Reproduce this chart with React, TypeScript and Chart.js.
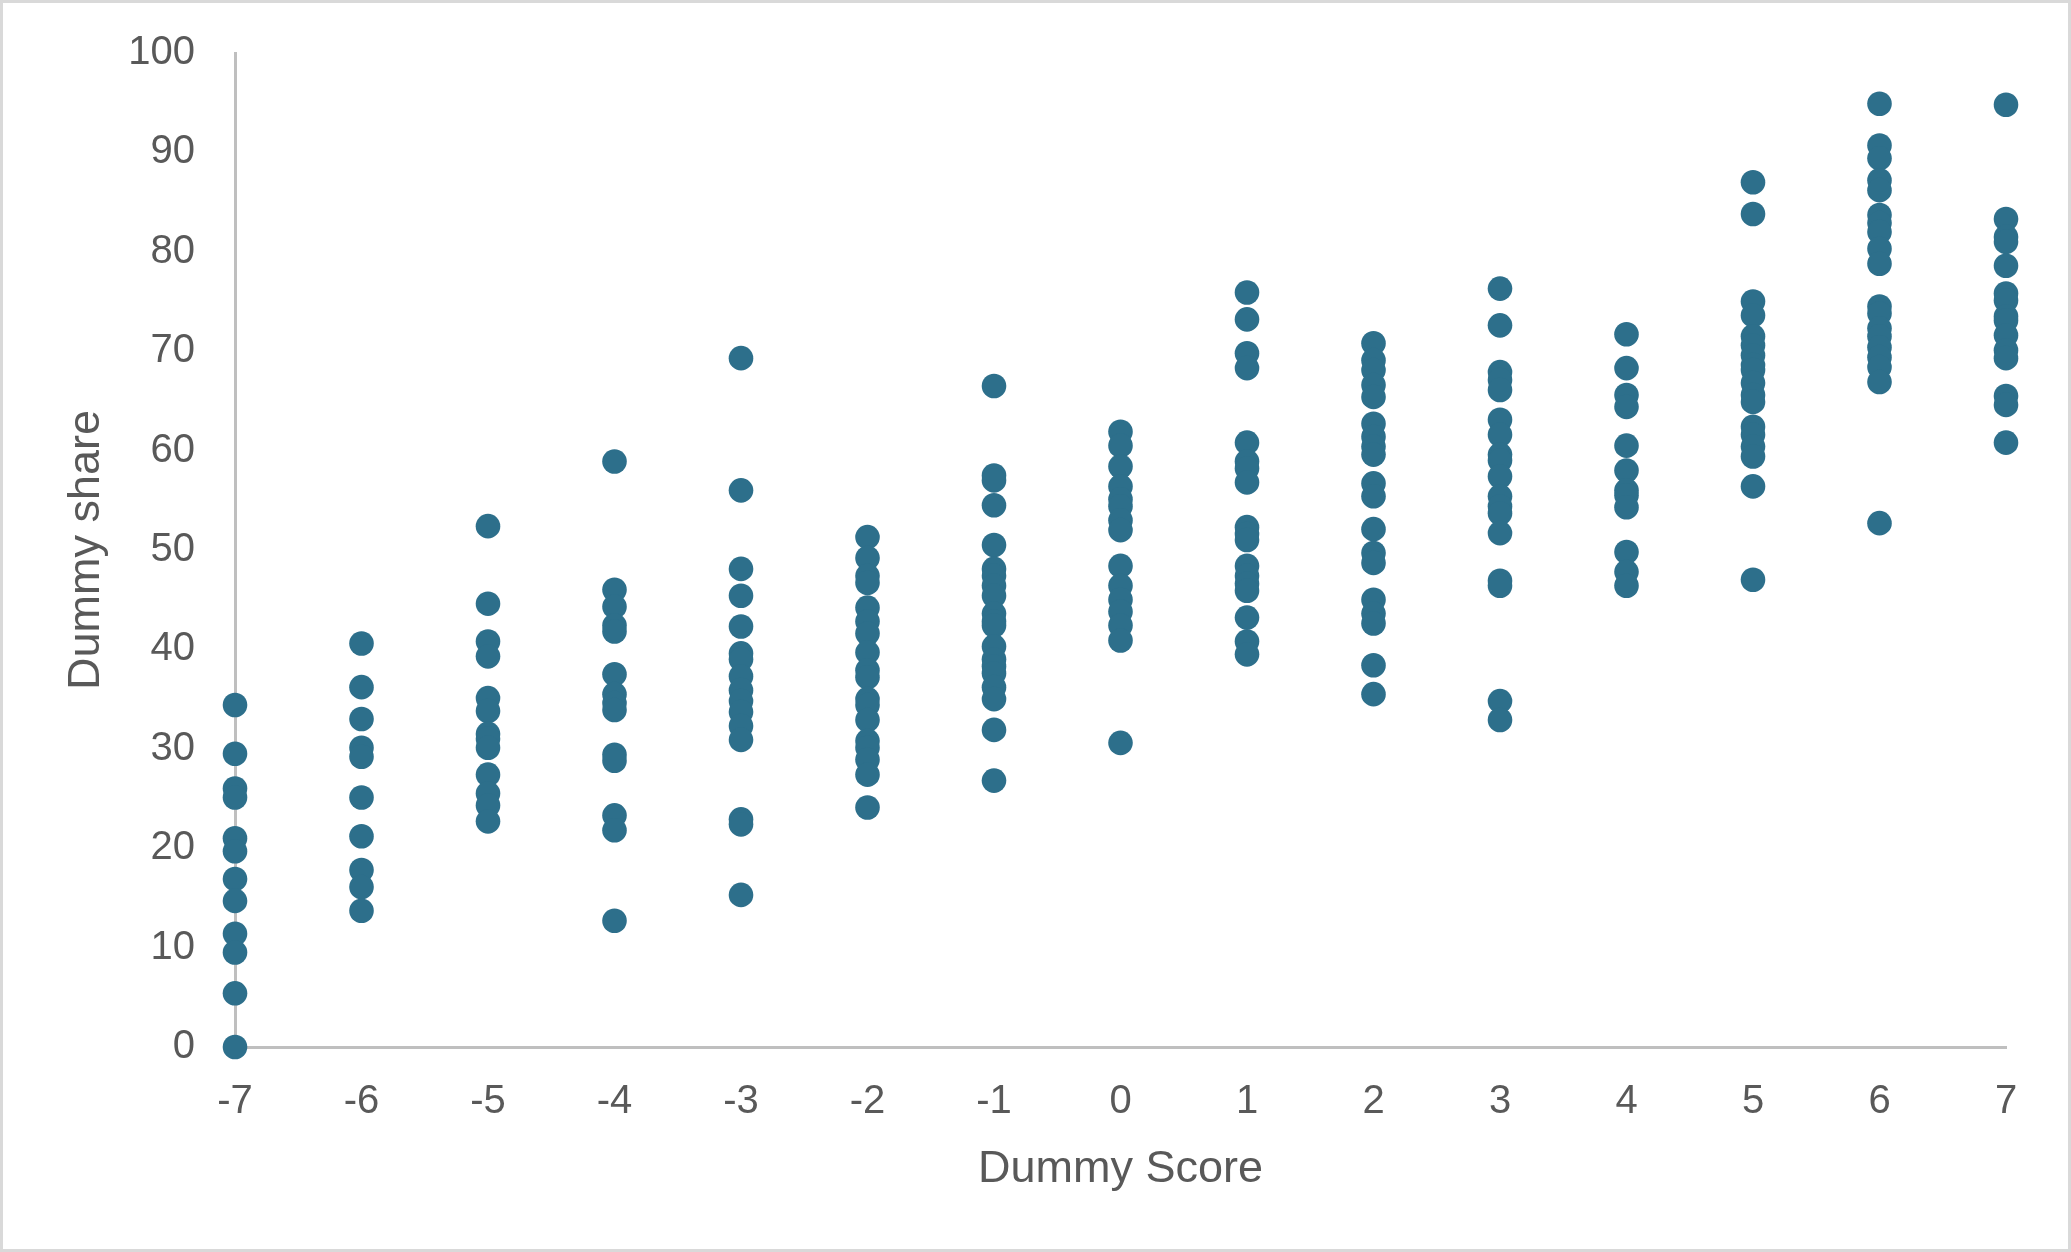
import React, { useEffect, useRef } from "react";
import { Chart, registerables } from "chart.js";

Chart.register(...registerables);

// Score categories (x values)
const scores = [-7, -6, -5, -4, -3, -2, -1, 0, 1, 2, 3, 4, 5, 6, 7];

// Share values (y) for each score
const sharesMinus7 = [34.4, 29.5, 26.0, 25.1, 21.0, 19.7, 16.9, 14.7, 11.4, 9.5, 5.4, 0];
const sharesMinus6 = [40.6, 36.2, 33.0, 30.1, 29.2, 25.1, 21.2, 17.8, 16.1, 13.7];
const sharesMinus5 = [52.4, 44.6, 40.8, 39.3, 35.1, 33.8, 31.5, 31.0, 30.1, 27.4, 25.5, 24.3, 22.7];
const sharesMinus4 = [58.9, 46.0, 44.3, 42.4, 41.8, 37.5, 35.5, 34.6, 33.9, 29.4, 28.8, 23.3, 21.8, 12.7];
const sharesMinus3 = [69.3, 56.0, 48.1, 45.4, 42.3, 39.6, 39.0, 37.3, 35.9, 34.8, 33.7, 32.3, 30.9, 22.9, 22.4, 15.3];
const sharesMinus2 = [51.3, 49.2, 47.4, 46.7, 44.2, 42.8, 41.6, 39.7, 37.9, 37.2, 35.0, 34.4, 32.9, 30.8, 30.1, 28.9, 27.4, 24.1];
const sharesMinus1 = [66.5, 57.5, 57.0, 54.5, 50.5, 48.1, 47.4, 46.4, 45.4, 43.6, 42.8, 42.4, 40.3, 39.0, 38.3, 37.6, 36.2, 35.0, 31.9, 26.8];
const shares0 = [61.9, 60.5, 58.4, 56.4, 55.1, 54.4, 53.0, 52.0, 48.4, 46.4, 45.0, 43.8, 42.4, 40.9, 30.6];
const shares1 = [75.9, 73.2, 69.8, 68.3, 60.8, 58.9, 58.2, 56.8, 52.3, 51.6, 51.0, 48.4, 47.4, 46.6, 45.9, 43.2, 40.8, 39.5];
const shares2 = [70.8, 69.1, 68.1, 66.6, 65.4, 62.7, 61.4, 60.4, 59.6, 56.7, 55.4, 52.1, 49.7, 48.7, 45.0, 43.6, 42.6, 38.4, 35.5];
const shares3 = [76.3, 72.6, 67.9, 67.1, 66.1, 63.1, 61.6, 59.6, 59.0, 57.4, 55.4, 54.4, 53.7, 51.7, 46.9, 46.4, 34.8, 32.9];
const shares4 = [71.7, 68.3, 65.6, 64.4, 60.5, 58.0, 56.0, 55.5, 54.3, 49.8, 47.8, 46.4];
const shares5 = [87.0, 83.8, 75.0, 73.6, 71.5, 70.6, 69.6, 68.6, 68.1, 66.8, 65.6, 64.9, 62.4, 61.6, 60.4, 59.4, 56.4, 47.0];
const shares6 = [94.9, 90.7, 89.4, 87.2, 86.2, 83.7, 82.9, 82.0, 80.3, 78.8, 74.5, 73.8, 72.3, 71.5, 70.4, 69.4, 68.4, 66.9, 52.7];
const shares7 = [94.8, 83.3, 81.5, 81.0, 78.6, 75.8, 75.1, 73.5, 73.1, 71.6, 70.1, 69.3, 65.5, 64.6, 60.8];

const sharesByScore = [
  sharesMinus7, sharesMinus6, sharesMinus5, sharesMinus4, sharesMinus3,
  sharesMinus2, sharesMinus1, shares0, shares1, shares2, shares3, shares4,
  shares5, shares6, shares7,
];

const xTitle = "Dummy Score";
const yTitle = "Dummy share";

const W = 2071;
const H = 1252;
const FONT = "'Liberation Sans', Arial, 'DejaVu Sans', sans-serif";
const TEXT = "#595959";
const AXIS = "#bfbfbf";
const DOT = "rgb(45,111,139)";

const frame = {
  id: "frame",
  beforeDraw(chart: any) {
    const ctx = chart.ctx;
    ctx.save();
    ctx.fillStyle = "#ffffff";
    ctx.fillRect(0, 0, chart.width, chart.height);
    ctx.strokeStyle = "#d9d9d9";
    ctx.lineWidth = 3;
    ctx.strokeRect(1.5, 1.5, chart.width - 3, chart.height - 3);
    ctx.restore();
  },
};

export default function App() {
  const ref = useRef<HTMLCanvasElement | null>(null);

  useEffect(() => {
    document.body.style.margin = "0";
    document.body.style.overflow = "hidden";
    const canvas = ref.current;
    if (!canvas) return;
    const points: { x: number; y: number }[] = [];
    scores.forEach((s, i) => {
      sharesByScore[i].forEach((v) => points.push({ x: s, y: v }));
    });

    const chart = new Chart(canvas, {
      type: "scatter",
      data: {
        datasets: [
          {
            data: points,
            backgroundColor: DOT,
            borderColor: DOT,
            borderWidth: 0,
            pointRadius: 12.3,
            pointHoverRadius: 12.3,
            clip: false as any,
          },
        ],
      },
      options: {
        animation: false,
        responsive: false,
        devicePixelRatio: 1,
        layout: {
          autoPadding: false,
          padding: { left: 0, top: 53, right: 65, bottom: 0 },
        },
        plugins: {
          legend: { display: false },
          tooltip: { enabled: false },
          title: { display: false },
        },
        scales: {
          x: {
            type: "linear",
            position: "bottom",
            min: -7,
            max: 7,
            grid: { display: false, drawTicks: false },
            border: { display: true, color: AXIS, width: 3 },
            ticks: {
              stepSize: 1,
              padding: 31,
              color: TEXT,
              font: { family: FONT, size: 40 },
              maxRotation: 0,
              autoSkip: false,
            },
            title: {
              display: true,
              text: xTitle,
              color: TEXT,
              font: { family: FONT, size: 45 },
              padding: { top: 0, bottom: 55 },
            },
            afterFit: (scale: any) => {
              scale.height = 205;
              scale.paddingLeft = 0;
              scale.paddingRight = 0;
            },
          },
          y: {
            type: "linear",
            position: "left",
            min: 0,
            max: 100,
            grid: { display: false, drawTicks: false },
            border: { display: true, color: AXIS, width: 3 },
            ticks: {
              stepSize: 10,
              padding: 40,
              color: TEXT,
              font: { family: FONT, size: 40 },
            },
            title: {
              display: true,
              text: yTitle,
              color: TEXT,
              font: { family: FONT, size: 45 },
              padding: { top: 60, bottom: 0 },
            },
            afterFit: (scale: any) => {
              scale.width = 235;
              scale.paddingTop = 0;
              scale.paddingBottom = 0;
            },
          },
        },
      },
      plugins: [frame],
    });

    return () => chart.destroy();
  }, []);

  return (
    <div style={{ position: "absolute", left: 0, top: 0, width: W, height: H }}>
      <canvas ref={ref} width={W} height={H} style={{ display: "block", width: W, height: H }} />
    </div>
  );
}
